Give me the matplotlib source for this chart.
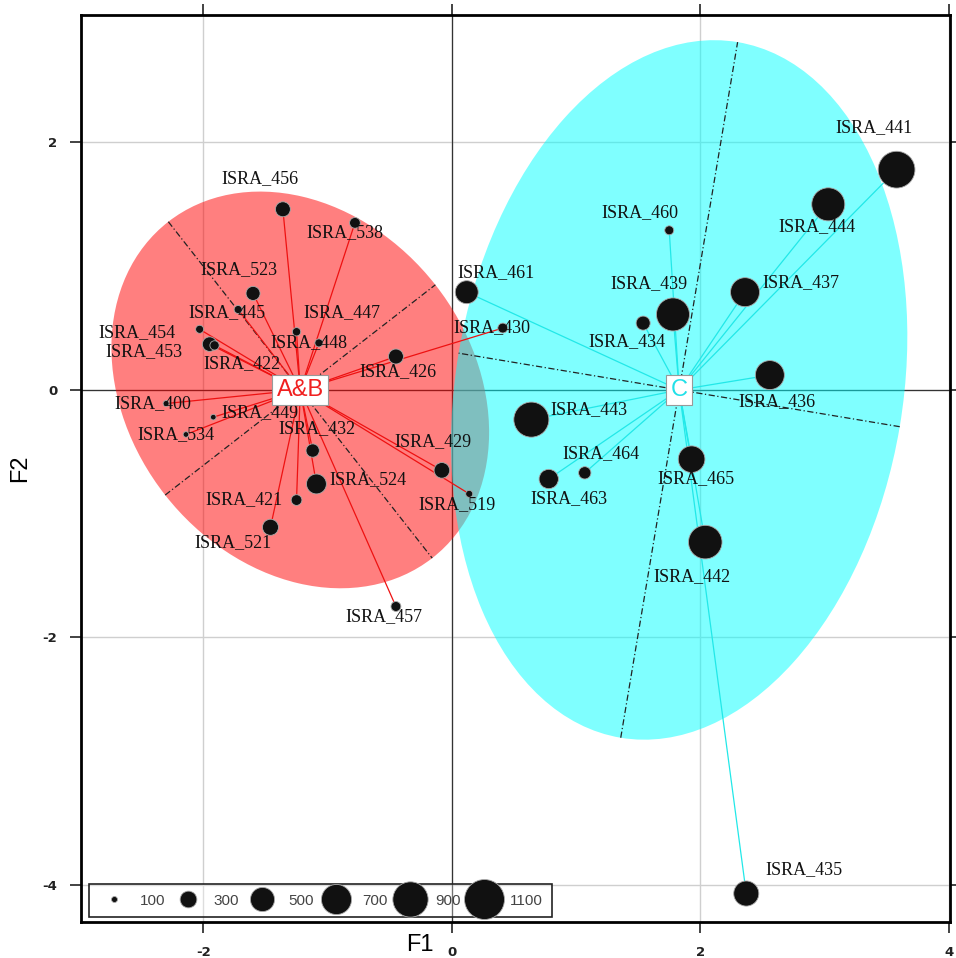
import numpy as np
import matplotlib
matplotlib.use("Agg")
import matplotlib.pyplot as plt
from matplotlib.patches import Ellipse
from matplotlib.lines import Line2D

plt.rcParams['axes.unicode_minus'] = False

# --- dados ---
ab_nomes = ['ISRA_456', 'ISRA_538', 'ISRA_523', 'ISRA_445', 'ISRA_454', 'ISRA_453', 'ISRA_422',
            'ISRA_447', 'ISRA_448', 'ISRA_426', 'ISRA_430', 'ISRA_400', 'ISRA_449', 'ISRA_534',
            'ISRA_432', 'ISRA_524', 'ISRA_421', 'ISRA_521', 'ISRA_429', 'ISRA_519', 'ISRA_457']
ab_f1 = [-1.36, -0.78, -1.60, -1.72, -2.03, -1.95, -1.91, -1.25, -1.07, -0.45, 0.41,
         -2.30, -1.92, -2.14, -1.12, -1.09, -1.25, -1.46, -0.08, 0.14, -0.45]
ab_f2 = [1.46, 1.35, 0.78, 0.65, 0.49, 0.37, 0.36, 0.47, 0.38, 0.27, 0.50,
         -0.11, -0.22, -0.36, -0.49, -0.76, -0.89, -1.11, -0.65, -0.84, -1.75]
ab_tam = [260, 175, 240, 130, 130, 250, 150, 135, 130, 260, 160,
          100, 95, 95, 225, 380, 175, 285, 275, 115, 160]

c_nomes = ['ISRA_461', 'ISRA_460', 'ISRA_439', 'ISRA_434', 'ISRA_437', 'ISRA_441', 'ISRA_444',
           'ISRA_436', 'ISRA_443', 'ISRA_464', 'ISRA_463', 'ISRA_465', 'ISRA_442', 'ISRA_435']
c_f1 = [0.12, 1.75, 1.78, 1.54, 2.36, 3.58, 3.03, 2.56, 0.64, 1.07, 0.78, 1.93, 2.04, 2.37]
c_f2 = [0.79, 1.29, 0.61, 0.54, 0.79, 1.78, 1.50, 0.12, -0.24, -0.67, -0.72, -0.56, -1.23, -4.07]
c_tam = [465, 145, 810, 240, 660, 960, 810, 660, 890, 205, 365, 580, 830, 530]

centro_ab = (-1.22, 0.00)
centro_c = (1.83, 0.00)
# elipses: (semi-eixo maior, semi-eixo menor, angulo em graus)
elipse_ab = (1.725, 1.38, -52.0)
elipse_c = (2.85, 1.80, 80.5)

legenda_tam = [100, 300, 500, 700, 900, 1100]

# deslocamento dos rotulos (em pixels, y para cima)
desl = {
    'ISRA_456': (-23, 31), 'ISRA_538': (-10, -10), 'ISRA_523': (-14, 24), 'ISRA_445': (-11, -3),
    'ISRA_454': (-63, -3), 'ISRA_453': (-66, -7), 'ISRA_422': (27, -18), 'ISRA_447': (45, 19),
    'ISRA_448': (-10, 0), 'ISRA_426': (2, -15), 'ISRA_430': (-11, 0), 'ISRA_400': (-13, 0),
    'ISRA_449': (47, 5), 'ISRA_534': (-10, 0), 'ISRA_432': (4, 22), 'ISRA_524': (52, 4),
    'ISRA_421': (-53, 0), 'ISRA_521': (-37, -15), 'ISRA_429': (-9, 29), 'ISRA_519': (-12, -11),
    'ISRA_457': (-12, -10),
    'ISRA_461': (29, 20), 'ISRA_460': (-29, 18), 'ISRA_439': (-24, 31), 'ISRA_434': (-16, -19),
    'ISRA_437': (56, 10), 'ISRA_441': (-23, 42), 'ISRA_444': (-11, -22), 'ISRA_436': (7, -27),
    'ISRA_443': (58, 10), 'ISRA_464': (16, 19), 'ISRA_463': (20, -20), 'ISRA_465': (4, -19),
    'ISRA_442': (-13, -35), 'ISRA_435': (58, 24),
}


def diametro_pt(v):
    # diametro do marcador (px -> pt) em funcao do tamanho
    return (1.466 * np.sqrt(v) - 8.66) * 0.72


fig = plt.figure(figsize=(9.56, 9.58), dpi=100)
ax = fig.add_axes([81 / 956, 1 - 922 / 958, (950 - 81) / 956, (922 - 15) / 958])
ax.set_xlim(-2.985, 4.01)
ax.set_ylim(-4.30, 3.03)

ax.grid(True, color='#cfcfcf', lw=1.0, zorder=0)
ax.set_axisbelow(True)
ax.axhline(0, color='#333333', lw=0.9, zorder=1)
ax.axvline(0, color='#333333', lw=0.9, zorder=1)

# elipses
for centro, (a, b, ang), cor in [(centro_ab, elipse_ab, (1, 0, 0, 0.5)),
                                 (centro_c, elipse_c, (0, 1, 1, 0.5))]:
    e = Ellipse(centro, 2 * a, 2 * b, angle=ang, facecolor=cor, edgecolor='none', zorder=2)
    ax.add_patch(e)
    t = np.deg2rad(ang)
    for (ux, uy), r in [((np.cos(t), np.sin(t)), a), ((-np.sin(t), np.cos(t)), b)]:
        ax.plot([centro[0] - r * ux, centro[0] + r * ux], [centro[1] - r * uy, centro[1] + r * uy],
                color='#222222', lw=0.9, ls=(0, (5, 2, 1, 2)), zorder=3)

# linhas ate o centroide
for x, y in zip(ab_f1, ab_f2):
    ax.plot([centro_ab[0], x], [centro_ab[1], y], color='#ee1111', lw=0.9, zorder=4)
for x, y in zip(c_f1, c_f2):
    ax.plot([centro_c[0], x], [centro_c[1], y], color='#22e8e8', lw=0.9, zorder=4)

# pontos
todos_x = ab_f1 + c_f1
todos_y = ab_f2 + c_f2
todos_t = ab_tam + c_tam
todos_n = ab_nomes + c_nomes
ax.scatter(todos_x, todos_y, s=[diametro_pt(v) ** 2 for v in todos_t], c='#111111',
           edgecolors='#aaaaaa', linewidths=0.6, zorder=5)

for n, x, y in zip(todos_n, todos_x, todos_y):
    dx, dy = desl[n]
    ax.annotate(n, (x, y), xytext=(dx * 0.72, dy * 0.72), textcoords='offset points',
                ha='center', va='center', fontsize=13, family='Liberation Serif',
                color='#111111', zorder=6)

# centroides
ax.text(centro_ab[0], centro_ab[1], 'A&B', color='#f02020', fontsize=17, family='Liberation Sans',
        ha='center', va='center', zorder=7,
        bbox=dict(boxstyle='square,pad=0.18', facecolor='white', edgecolor='#999999', lw=0.8))
ax.text(centro_c[0], centro_c[1], 'C', color='#22e0e8', fontsize=17, family='Liberation Sans',
        ha='center', va='center', zorder=7,
        bbox=dict(boxstyle='square,pad=0.18', facecolor='white', edgecolor='#999999', lw=0.8))

# eixos
ax.set_xticks([-2, 0, 2, 4])
ax.set_yticks([-4, -2, 0, 2])
ax.tick_params(direction='out', length=8, width=1.2, labelsize=9.5, pad=9,
               top=True, right=True, colors='#222222')
for lab in ax.get_xticklabels() + ax.get_yticklabels():
    lab.set_fontweight('bold')
for s in ax.spines.values():
    s.set_linewidth(2.0)
    s.set_color('black')
ax.set_xlabel('F1', fontsize=17, family='Liberation Sans')
ax.set_ylabel('F2', fontsize=17, family='Liberation Sans', labelpad=8)
ax.xaxis.label.set_va('center')
ax.xaxis.set_label_coords(0.39, -0.025)

# legenda de tamanhos
handles = [Line2D([], [], marker='o', ls='none', color='#111111', markeredgecolor='#aaaaaa',
                  markeredgewidth=0.6, markersize=diametro_pt(v)) for v in legenda_tam]
leg = ax.legend(handles, [str(v) for v in legenda_tam], ncol=6, loc='lower left',
                bbox_to_anchor=(0.009, 0.005), handletextpad=0.7,
                columnspacing=0.47, borderpad=0.65, fancybox=False, borderaxespad=0,
                prop={'family': 'Liberation Sans', 'size': 11})
leg.get_frame().set_edgecolor('#222222')
leg.get_frame().set_linewidth(1.2)
leg.get_frame().set_alpha(None)
leg.get_frame().set_facecolor((1, 1, 1, 0.3))
for t in leg.get_texts():
    t.set_color('#444444')

fig.savefig('out.png', dpi=100)
